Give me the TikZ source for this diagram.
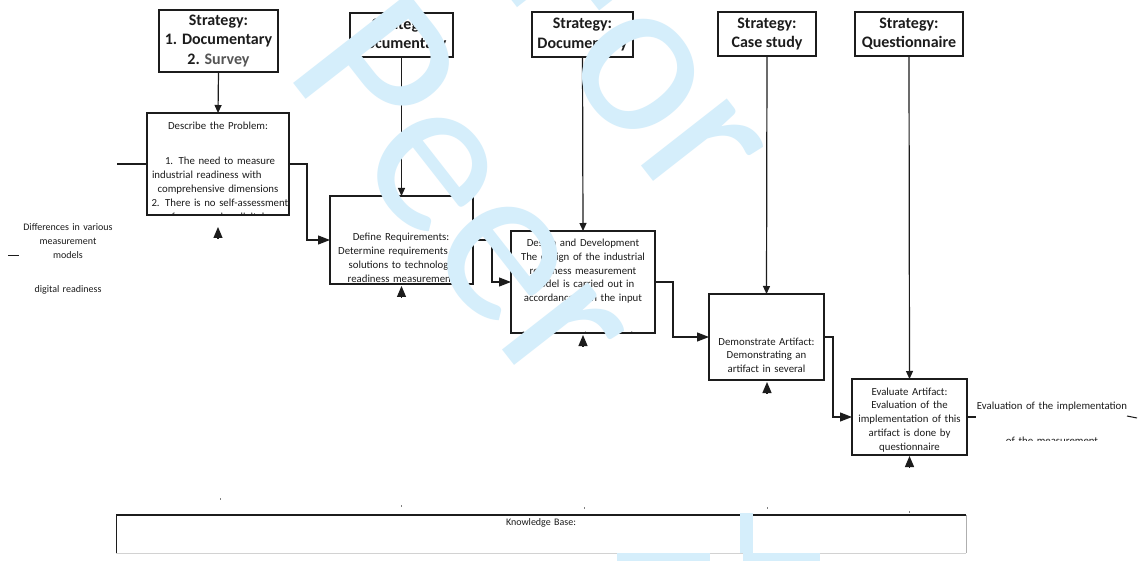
\documentclass[tikz,border=0pt]{standalone}
\usepackage{fontspec}
\setmainfont{Carlito}
\usetikzlibrary{arrows.meta,calc}
\definecolor{ink}{RGB}{28,28,28}
\definecolor{survey}{RGB}{85,85,85}
\definecolor{wmblue}{RGB}{213,238,251}
\definecolor{kbgray}{RGB}{175,175,175}
\begin{document}
\begin{tikzpicture}[x=1pt,y=-1pt,
  line/.style={draw=ink, line width=1.2pt},
  box/.style={draw=ink, line width=1.2pt, inner sep=0pt, outer sep=0pt, rectangle},
  stratbox/.style={box, align=center, text=ink, font=\fontsize{16}{19.5}\selectfont\bfseries},
  txt/.style={inner sep=0pt, outer sep=0pt, text=ink, align=center, text width=160pt, font=\fontsize{10.8}{13.8}\selectfont},
  smalltxt/.style={txt, font=\fontsize{10}{14}\selectfont},
  downtip/.style={line, -{Triangle[length=8pt,width=7pt]}},
  flowtip/.style={line, -{Triangle[length=12pt,width=9pt]}},
  uptip/.style={line, -{Triangle[length=11pt,width=9pt]}},
  speck/.style={draw=gray, line width=0.8pt},
  wm/.style={inner sep=0pt, outer sep=0pt, text=wmblue, font=\fontsize{228}{228}\selectfont, rotate=-52, anchor=base west},
]
\useasboundingbox (0,0) rectangle (1143,561);
\fill[white] (0,0) rectangle (1143,561);

% strategy boxes
\node[stratbox, minimum width=119pt, minimum height=62pt] (s1) at (218.5,41) {Strategy:\\1. Documentary\\2. \textcolor{survey}{Survey}};
\node[stratbox, minimum width=103pt, minimum height=44pt] (s2) at (401.5,35) {Strategy:\\Documentary};
\node[stratbox, minimum width=101pt, minimum height=45pt] (s3) at (582.5,34.5) {Strategy:\\Documentary};
\node[stratbox, minimum width=98pt, minimum height=44pt] (s4) at (767,34) {Strategy:\\Case study};
\node[stratbox, minimum width=108pt, minimum height=44pt] (s5) at (909,34) {Strategy:\\Questionnaire};

% process boxes
\node[box, minimum width=142pt, minimum height=102pt] (p1) at (218,164) {};
\node[box, minimum width=143pt, minimum height=88pt] (p2) at (401.5,240) {};
\node[box, minimum width=144pt, minimum height=102pt] (p3) at (583,282) {};
\node[box, minimum width=115pt, minimum height=86pt] (p4) at (766.5,337) {};
\node[box, minimum width=115pt, minimum height=76pt] (p5) at (909.5,417) {};

% box texts, cut off at the box borders
\begin{scope}
\clip (p1.north west) rectangle (p1.south east);
\node[txt, anchor=base] (p1a) at (218,130) {Describe the Problem:};
\node[txt, anchor=base] (p1b) at (218,165) {\hspace*{8pt}\makebox[114pt][s]{1. The need to measure}\\
  \hspace*{-5pt}\makebox[127pt][s]{industrial readiness with}\\
  comprehensive dimensions\\
  \makebox[133pt][s]{2. There is no self-assessment}\\
  for measuring digital};
\end{scope}
\begin{scope}
\clip (p2.north west) rectangle (p2.south east);
\node[txt, anchor=base] (p2a) at (401,241) {Define Requirements:\\Determine requirements for\\solutions to technology\\readiness measurement};
\end{scope}
\begin{scope}
\clip (p3.north west) rectangle (p3.south east);
\node[txt, anchor=base] (p3a) at (583,246.5) {Design and Development\\The design of the industrial\\readiness measurement\\model is carried out in\\accordance with the input};
\node[txt, anchor=base] (p3b) at (583,339) {from the requirements that};
\end{scope}
\begin{scope}
\clip (p4.north west) rectangle (p4.south east);
\node[txt, anchor=base] (p4a) at (766.5,345) {Demonstrate Artifact:\\Demonstrating an\\artifact in several};
\end{scope}
\begin{scope}
\clip (p5.north west) rectangle (p5.south east);
\node[txt, anchor=base] (p5a) at (909.5,395) {Evaluate Artifact:\\Evaluation of the\\implementation of this\\artifact is done by\\questionnaire};
\end{scope}

% strategy feeds
\draw[downtip] (s1.south) -- (p1.north);
\draw[downtip] (s2.south) -- (p2.north);
\draw[downtip] (s3.south) -- (p3.north);
\draw[downtip] (s4.south) -- (p4.north);
\draw[downtip] (s5.south) -- (p5.north);

% process flow
\coordinate (in1) at (117,164);
\draw[line] (in1) -- (p1.west);
\draw[flowtip] (p1.east) -- ++(18,0) |- (p2.west);
\draw[flowtip] (p2.east) -- ++(19,0) |- (p3.west);
\draw[flowtip] (p3.east) -- ++(18,0) |- (p4.west);
\draw[flowtip] (p4.east) -- ++(9,0) |- (p5.west);
\coordinate (out5) at (976,417);
\draw[line] (p5.east) -- (out5);

% knowledge-base feeds (arrow heads only)
\foreach \i/\x/\t in {1/218/227, 2/401.5/286, 3/583/335, 4/767/382, 5/909.5/456}{
  \coordinate (kbt\i) at (\x,\t);
  \coordinate (kbb\i) at (\x,\t+11);
  \draw[uptip] (kbb\i) -- (kbt\i);
}
\foreach \x/\y in {220/498, 401/505, 584/507, 767/507, 909/511}{
  \draw[speck] (\x,\y) -- (\x,\y+1.5);
}

% side notes
\node[smalltxt, anchor=base] (lt1) at (68,231) {Differences in various\\measurement\\models};
\node[smalltxt, anchor=base] (lt2) at (68,293) {digital readiness};
\coordinate (dashA) at (8,255.5);
\coordinate (dashB) at (19,255.5);
\draw[line, line width=1.3pt] (dashA) -- (dashB);

\node[txt, anchor=base] (lbl) at (1052,409) {Evaluation of the implementation};
\begin{scope}
\clip (975,420) rectangle (1143,440);
\node[txt, anchor=base] (lbl2) at (1052,444) {of the measurement};
\end{scope}
\coordinate (tailA) at (1127,416);
\coordinate (tailB) at (1137,418);
\draw[line, line width=1pt] (tailA) -- (tailB);

% knowledge base
\node[inner sep=0pt, outer sep=0pt, minimum width=850pt, minimum height=38pt] (kb) at (541,534) {};
\draw[gray!35, line width=1pt] (kb.south west) -- (kb.south east);
\draw[ink, line width=1pt] (kb.north west) -- (kb.south west);
\draw[kbgray, line width=1pt] (kb.north east) -- (kb.south east);
\draw[ink, line width=2pt] (kb.north west) -- (kb.north east);
\node[smalltxt, anchor=base] (kbt) at (541,525) {Knowledge Base:};

% watermark
\begin{scope}
\clip (0,0) rectangle (1143,561);
\node[wm] (wmfor) at (495.9,-20.1) {For};
\node[wm] (wmpeer) at (283.5,70.2) {Peer};
\fill[wmblue] (740,513) rectangle (753,553);
\fill[wmblue] (617,553) rectangle (710,561);
\fill[wmblue] (743,553) rectangle (820,561);
\end{scope}
\end{tikzpicture}
\end{document}
